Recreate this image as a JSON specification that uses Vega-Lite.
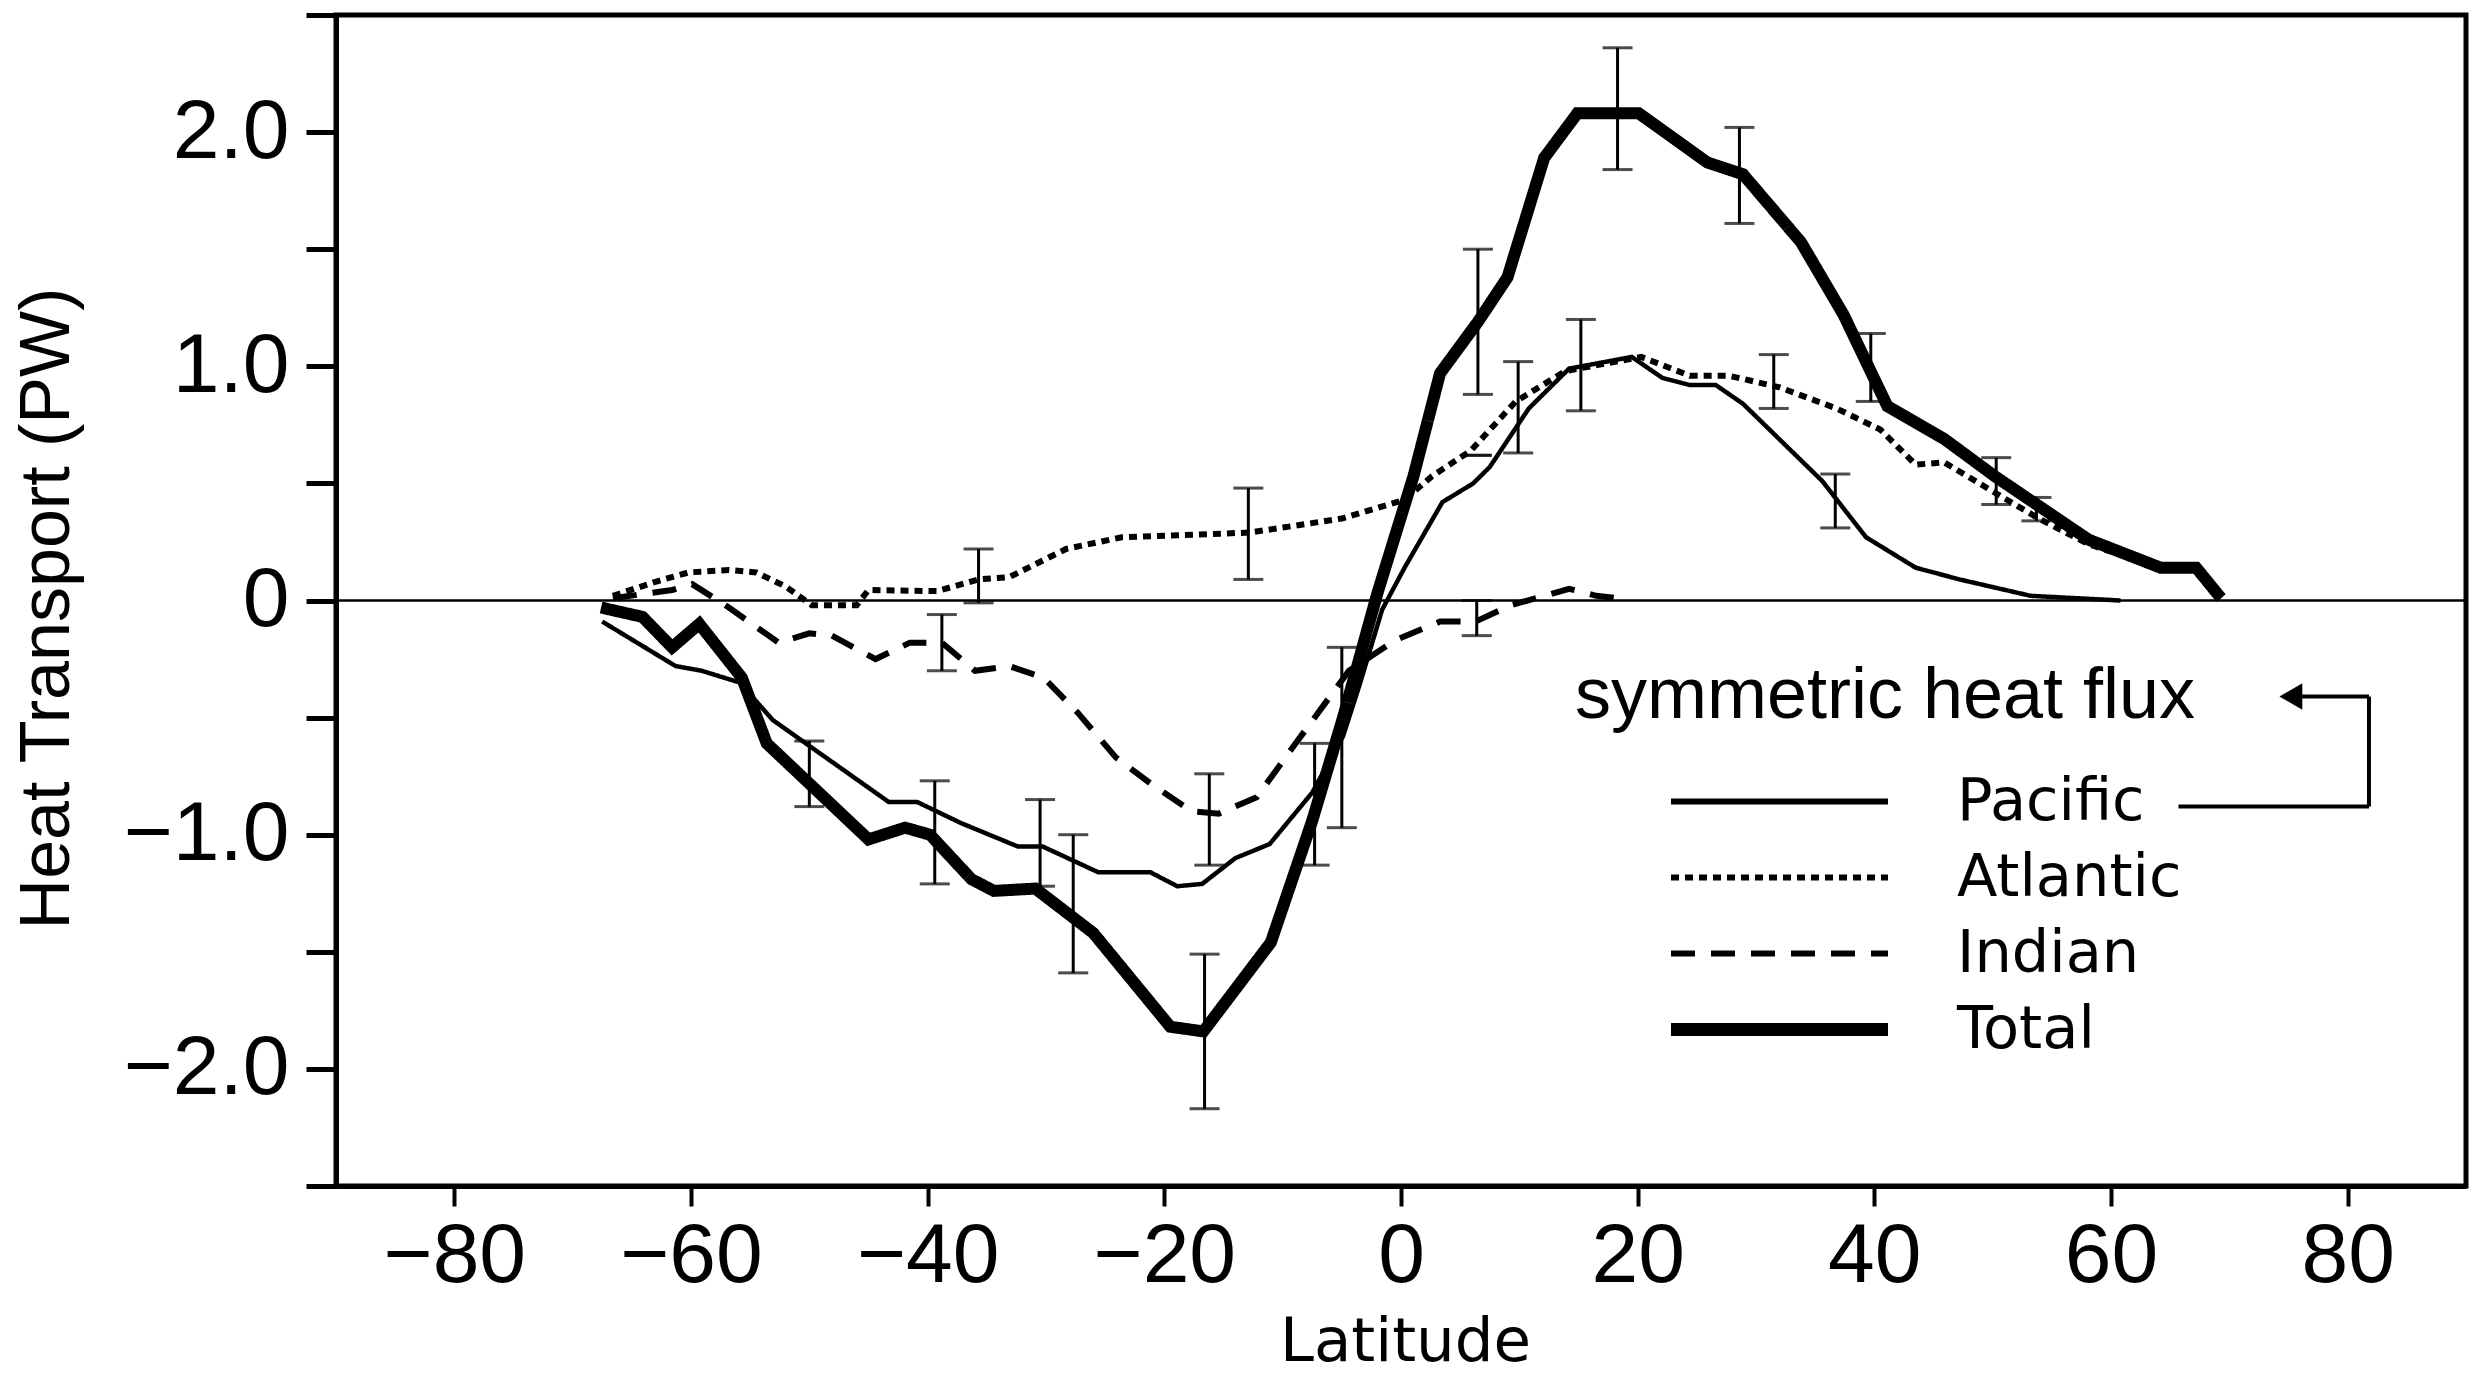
{
  "$schema": "https://vega.github.io/schema/vega-lite/v6.json",
  "width": 2130,
  "height": 1171,
  "autosize": {"type": "none"},
  "padding": {"left": 336, "top": 15, "right": 13, "bottom": 189},
  "background": "white",
  "datasets": {
    "lines": [
      {"ocean": "Total", "lat": -67.6, "pw": -0.03},
      {"ocean": "Total", "lat": -64.1, "pw": -0.07},
      {"ocean": "Total", "lat": -61.6, "pw": -0.2},
      {"ocean": "Total", "lat": -59.3, "pw": -0.1},
      {"ocean": "Total", "lat": -55.7, "pw": -0.33},
      {"ocean": "Total", "lat": -53.6, "pw": -0.61},
      {"ocean": "Total", "lat": -45.0, "pw": -1.02},
      {"ocean": "Total", "lat": -41.9, "pw": -0.97},
      {"ocean": "Total", "lat": -39.8, "pw": -1.0},
      {"ocean": "Total", "lat": -36.3, "pw": -1.19},
      {"ocean": "Total", "lat": -34.4, "pw": -1.24},
      {"ocean": "Total", "lat": -30.9, "pw": -1.23},
      {"ocean": "Total", "lat": -26.0, "pw": -1.42},
      {"ocean": "Total", "lat": -19.5, "pw": -1.82},
      {"ocean": "Total", "lat": -16.7, "pw": -1.84},
      {"ocean": "Total", "lat": -11.0, "pw": -1.46},
      {"ocean": "Total", "lat": -7.5, "pw": -0.94},
      {"ocean": "Total", "lat": -4.9, "pw": -0.5},
      {"ocean": "Total", "lat": -2.0, "pw": 0.03},
      {"ocean": "Total", "lat": 1.05, "pw": 0.53},
      {"ocean": "Total", "lat": 3.3, "pw": 0.97},
      {"ocean": "Total", "lat": 6.5, "pw": 1.19},
      {"ocean": "Total", "lat": 9.0, "pw": 1.38},
      {"ocean": "Total", "lat": 12.1, "pw": 1.89},
      {"ocean": "Total", "lat": 14.9, "pw": 2.08},
      {"ocean": "Total", "lat": 20.1, "pw": 2.08},
      {"ocean": "Total", "lat": 25.9, "pw": 1.87},
      {"ocean": "Total", "lat": 28.9, "pw": 1.82},
      {"ocean": "Total", "lat": 33.8, "pw": 1.53},
      {"ocean": "Total", "lat": 37.4, "pw": 1.22},
      {"ocean": "Total", "lat": 41.1, "pw": 0.83},
      {"ocean": "Total", "lat": 45.9, "pw": 0.69},
      {"ocean": "Total", "lat": 50.2, "pw": 0.53},
      {"ocean": "Total", "lat": 58.1, "pw": 0.26},
      {"ocean": "Total", "lat": 64.2, "pw": 0.14},
      {"ocean": "Total", "lat": 67.2, "pw": 0.14},
      {"ocean": "Total", "lat": 69.3, "pw": 0.01},

      {"ocean": "Pacific", "lat": -67.5, "pw": -0.09},
      {"ocean": "Pacific", "lat": -61.3, "pw": -0.28},
      {"ocean": "Pacific", "lat": -59.1, "pw": -0.3},
      {"ocean": "Pacific", "lat": -55.9, "pw": -0.35},
      {"ocean": "Pacific", "lat": -53.1, "pw": -0.51},
      {"ocean": "Pacific", "lat": -43.3, "pw": -0.86},
      {"ocean": "Pacific", "lat": -40.9, "pw": -0.86},
      {"ocean": "Pacific", "lat": -37.2, "pw": -0.95},
      {"ocean": "Pacific", "lat": -32.4, "pw": -1.05},
      {"ocean": "Pacific", "lat": -30.3, "pw": -1.05},
      {"ocean": "Pacific", "lat": -25.6, "pw": -1.16},
      {"ocean": "Pacific", "lat": -21.2, "pw": -1.16},
      {"ocean": "Pacific", "lat": -18.9, "pw": -1.22},
      {"ocean": "Pacific", "lat": -16.8, "pw": -1.21},
      {"ocean": "Pacific", "lat": -14.0, "pw": -1.1},
      {"ocean": "Pacific", "lat": -11.1, "pw": -1.04},
      {"ocean": "Pacific", "lat": -7.5, "pw": -0.82},
      {"ocean": "Pacific", "lat": -4.9, "pw": -0.58},
      {"ocean": "Pacific", "lat": -3.5, "pw": -0.36},
      {"ocean": "Pacific", "lat": -1.6, "pw": -0.04},
      {"ocean": "Pacific", "lat": 0.3, "pw": 0.14},
      {"ocean": "Pacific", "lat": 3.5, "pw": 0.42},
      {"ocean": "Pacific", "lat": 6.1, "pw": 0.5},
      {"ocean": "Pacific", "lat": 7.5, "pw": 0.57},
      {"ocean": "Pacific", "lat": 10.8, "pw": 0.82},
      {"ocean": "Pacific", "lat": 14.2, "pw": 0.99},
      {"ocean": "Pacific", "lat": 19.5, "pw": 1.04},
      {"ocean": "Pacific", "lat": 22.1, "pw": 0.95},
      {"ocean": "Pacific", "lat": 24.4, "pw": 0.92},
      {"ocean": "Pacific", "lat": 26.6, "pw": 0.92},
      {"ocean": "Pacific", "lat": 28.9, "pw": 0.84},
      {"ocean": "Pacific", "lat": 35.6, "pw": 0.51},
      {"ocean": "Pacific", "lat": 39.3, "pw": 0.27},
      {"ocean": "Pacific", "lat": 43.5, "pw": 0.14},
      {"ocean": "Pacific", "lat": 47.2, "pw": 0.09},
      {"ocean": "Pacific", "lat": 53.2, "pw": 0.02},
      {"ocean": "Pacific", "lat": 60.8, "pw": 0.0},

      {"ocean": "Atlantic", "lat": -66.6, "pw": 0.02},
      {"ocean": "Atlantic", "lat": -63.0, "pw": 0.08},
      {"ocean": "Atlantic", "lat": -60.2, "pw": 0.12},
      {"ocean": "Atlantic", "lat": -56.8, "pw": 0.13},
      {"ocean": "Atlantic", "lat": -54.5, "pw": 0.12},
      {"ocean": "Atlantic", "lat": -52.0, "pw": 0.06},
      {"ocean": "Atlantic", "lat": -49.8, "pw": -0.02},
      {"ocean": "Atlantic", "lat": -46.0, "pw": -0.02},
      {"ocean": "Atlantic", "lat": -45.0, "pw": 0.045},
      {"ocean": "Atlantic", "lat": -39.2, "pw": 0.04},
      {"ocean": "Atlantic", "lat": -35.7, "pw": 0.09},
      {"ocean": "Atlantic", "lat": -33.1, "pw": 0.1},
      {"ocean": "Atlantic", "lat": -28.3, "pw": 0.22},
      {"ocean": "Atlantic", "lat": -23.6, "pw": 0.27},
      {"ocean": "Atlantic", "lat": -12.8, "pw": 0.29},
      {"ocean": "Atlantic", "lat": -5.0, "pw": 0.35},
      {"ocean": "Atlantic", "lat": 0.3, "pw": 0.43},
      {"ocean": "Atlantic", "lat": 2.6, "pw": 0.53},
      {"ocean": "Atlantic", "lat": 5.9, "pw": 0.64},
      {"ocean": "Atlantic", "lat": 9.7, "pw": 0.85},
      {"ocean": "Atlantic", "lat": 13.9, "pw": 0.98},
      {"ocean": "Atlantic", "lat": 20.3, "pw": 1.04},
      {"ocean": "Atlantic", "lat": 24.4, "pw": 0.96},
      {"ocean": "Atlantic", "lat": 27.7, "pw": 0.96},
      {"ocean": "Atlantic", "lat": 32.0, "pw": 0.91},
      {"ocean": "Atlantic", "lat": 36.8, "pw": 0.82},
      {"ocean": "Atlantic", "lat": 40.5, "pw": 0.73},
      {"ocean": "Atlantic", "lat": 43.5, "pw": 0.58},
      {"ocean": "Atlantic", "lat": 45.9, "pw": 0.59},
      {"ocean": "Atlantic", "lat": 50.2, "pw": 0.46},
      {"ocean": "Atlantic", "lat": 53.9, "pw": 0.35},
      {"ocean": "Atlantic", "lat": 58.1, "pw": 0.24},
      {"ocean": "Atlantic", "lat": 64.2, "pw": 0.14},
      {"ocean": "Atlantic", "lat": 67.2, "pw": 0.13},
      {"ocean": "Atlantic", "lat": 69.3, "pw": 0.01},

      {"ocean": "Indian", "lat": -66.6, "pw": 0.01},
      {"ocean": "Indian", "lat": -61.6, "pw": 0.045},
      {"ocean": "Indian", "lat": -59.9, "pw": 0.07},
      {"ocean": "Indian", "lat": -56.8, "pw": -0.03},
      {"ocean": "Indian", "lat": -52.6, "pw": -0.18},
      {"ocean": "Indian", "lat": -50.0, "pw": -0.14},
      {"ocean": "Indian", "lat": -48.1, "pw": -0.15},
      {"ocean": "Indian", "lat": -44.4, "pw": -0.25},
      {"ocean": "Indian", "lat": -41.5, "pw": -0.18},
      {"ocean": "Indian", "lat": -38.8, "pw": -0.18},
      {"ocean": "Indian", "lat": -36.0, "pw": -0.3},
      {"ocean": "Indian", "lat": -33.1, "pw": -0.28},
      {"ocean": "Indian", "lat": -30.2, "pw": -0.33},
      {"ocean": "Indian", "lat": -27.3, "pw": -0.48},
      {"ocean": "Indian", "lat": -24.1, "pw": -0.67},
      {"ocean": "Indian", "lat": -21.2, "pw": -0.78},
      {"ocean": "Indian", "lat": -17.7, "pw": -0.9},
      {"ocean": "Indian", "lat": -15.4, "pw": -0.91},
      {"ocean": "Indian", "lat": -12.2, "pw": -0.84},
      {"ocean": "Indian", "lat": -8.9, "pw": -0.61},
      {"ocean": "Indian", "lat": -4.4, "pw": -0.3},
      {"ocean": "Indian", "lat": -0.5, "pw": -0.17},
      {"ocean": "Indian", "lat": 3.3, "pw": -0.09},
      {"ocean": "Indian", "lat": 6.3, "pw": -0.09},
      {"ocean": "Indian", "lat": 9.3, "pw": -0.02},
      {"ocean": "Indian", "lat": 14.2, "pw": 0.05},
      {"ocean": "Indian", "lat": 16.5, "pw": 0.02},
      {"ocean": "Indian", "lat": 18.3, "pw": 0.01}
    ],
    "bars": [
      {"lat": -50.0, "lo": -0.88, "hi": -0.6},
      {"lat": -39.4, "lo": -1.21, "hi": -0.77},
      {"lat": -38.8, "lo": -0.3, "hi": -0.06},
      {"lat": -35.7, "lo": -0.01, "hi": 0.22},
      {"lat": -30.5, "lo": -1.22, "hi": -0.85},
      {"lat": -27.7, "lo": -1.59, "hi": -1.0},
      {"lat": -16.6, "lo": -2.17, "hi": -1.51},
      {"lat": -16.2, "lo": -1.13, "hi": -0.74},
      {"lat": -12.9, "lo": 0.09, "hi": 0.48},
      {"lat": -7.3, "lo": -1.13, "hi": -0.61},
      {"lat": -5.0, "lo": -0.97, "hi": -0.2},
      {"lat": 6.4, "lo": -0.15, "hi": 0.0},
      {"lat": 6.4, "lo": 0.62, "hi": 0.62},
      {"lat": 6.5, "lo": 0.88, "hi": 1.5},
      {"lat": 9.9, "lo": 0.63, "hi": 1.02},
      {"lat": 15.2, "lo": 0.81, "hi": 1.2},
      {"lat": 18.3, "lo": 1.84, "hi": 2.36},
      {"lat": 28.6, "lo": 1.61, "hi": 2.02},
      {"lat": 31.5, "lo": 0.82, "hi": 1.05},
      {"lat": 36.7, "lo": 0.31, "hi": 0.54},
      {"lat": 39.7, "lo": 0.85, "hi": 1.14},
      {"lat": 50.3, "lo": 0.41, "hi": 0.61},
      {"lat": 53.7, "lo": 0.34, "hi": 0.44}
    ],
    "one": [{}]
  },
  "layer": [
    {
      "data": {"name": "one"},
      "mark": {"type": "rule", "color": "black", "strokeWidth": 2.5},
      "encoding": {"y": {"datum": 0, "type": "quantitative"}}
    },
    {
      "data": {"name": "bars"},
      "mark": {
        "type": "errorbar",
        "rule": {"strokeWidth": 3, "color": "black"},
        "ticks": {"size": 30, "thickness": 3, "color": "black"}
      },
      "encoding": {
        "x": {"field": "lat", "type": "quantitative", "title": "Latitude"},
        "y": {"field": "lo", "type": "quantitative", "title": "Heat Transport (PW)"},
        "y2": {"field": "hi"}
      }
    },
    {
      "data": {"name": "lines"},
      "mark": {"type": "line", "color": "black", "strokeCap": "butt"},
      "encoding": {
        "x": {
          "field": "lat",
          "type": "quantitative",
          "scale": {"domain": [-90, 90], "nice": false, "zero": false},
          "axis": {
            "values": [-80, -60, -40, -20, 0, 20, 40, 60, 80],
            "labelExpr": "format(datum.value, 'd')",
            "labelFontSize": 84,
            "labelPadding": 9,
            "tickSize": 20,
            "tickWidth": 4,
            "labelOverlap": false,
            "title": "Latitude",
            "titleFont": "DejaVu Sans",
            "titleFontSize": 61,
            "titleX": 1069,
            "titleY": 174,
            "titleAlign": "center",
            "titleBaseline": "alphabetic"
          },
          "title": "Latitude"
        },
        "y": {
          "field": "pw",
          "type": "quantitative",
          "scale": {"domain": [-2.5, 2.5], "nice": false, "zero": false},
          "axis": {
            "values": [-2.5, -2, -1.5, -1, -0.5, 0, 0.5, 1, 1.5, 2, 2.5],
            "labelExpr": "datum.value == 0 ? '0' : (datum.value % 1 == 0 ? format(datum.value, '.1f') : '')",
            "labelFontSize": 84,
            "labelPadding": 17,
            "tickSize": 30,
            "tickWidth": 5,
            "labelOverlap": false,
            "title": "Heat Transport (PW)",
            "titleFontSize": 70,
            "titleAngle": -90,
            "titleX": -289,
            "titleY": 593,
            "titleAlign": "center",
            "titleBaseline": "middle"
          },
          "title": "Heat Transport (PW)"
        },
        "strokeDash": {
          "field": "ocean",
          "type": "nominal",
          "scale": {
            "domain": ["Pacific", "Atlantic", "Indian", "Total"],
            "range": [[1, 0], [8, 6], [24, 16], [1, 0]]
          },
          "legend": {
            "orient": "none",
            "legendX": 1414,
            "legendY": 757,
            "title": null,
            "labelFont": "DejaVu Sans",
            "labelFontSize": 59,
            "labelColor": "black",
            "labelLimit": 0,
            "symbolType": "stroke",
            "symbolSize": 47089,
            "symbolStrokeColor": "black",
            "symbolStrokeWidth": 6,
            "labelOffset": 148,
            "rowPadding": 16,
            "encode": {
              "symbols": {
                "update": {
                  "strokeWidth": {"signal": "datum.value === 'Total' ? 13 : 6"},
                  "stroke": {"value": "black"}
                }
              }
            }
          }
        },
        "strokeWidth": {
          "condition": [
            {"test": "datum.ocean === 'Total'", "value": 12},
            {"test": "datum.ocean === 'Pacific'", "value": 4.5}
          ],
          "value": 6
        }
      }
    },
    {
      "data": {"name": "one"},
      "mark": {"type": "text", "align": "left", "baseline": "alphabetic", "font": "Liberation Sans", "fontSize": 72, "color": "black"},
      "encoding": {
        "x": {"datum": 14.7, "type": "quantitative"},
        "y": {"datum": -0.5, "type": "quantitative"},
        "text": {"value": "symmetric heat flux"}
      }
    },
    {
      "data": {"name": "one"},
      "mark": {"type": "rule", "color": "black", "strokeWidth": 4},
      "encoding": {
        "x": {"datum": 65.7, "type": "quantitative"},
        "x2": {"datum": 81.8},
        "y": {"datum": -0.88, "type": "quantitative"}
      }
    },
    {
      "data": {"name": "one"},
      "mark": {"type": "rule", "color": "black", "strokeWidth": 4},
      "encoding": {
        "x": {"datum": 81.8, "type": "quantitative"},
        "y": {"datum": -0.88, "type": "quantitative"},
        "y2": {"datum": -0.41}
      }
    },
    {
      "data": {"name": "one"},
      "mark": {"type": "rule", "color": "black", "strokeWidth": 4},
      "encoding": {
        "x": {"datum": 75.5, "type": "quantitative"},
        "x2": {"datum": 81.8},
        "y": {"datum": -0.41, "type": "quantitative"}
      }
    },
    {
      "data": {"name": "one"},
      "mark": {"type": "point", "shape": "triangle-left", "filled": true, "color": "black", "size": 700, "opacity": 1},
      "encoding": {
        "x": {"datum": 75.2, "type": "quantitative"},
        "y": {"datum": -0.41, "type": "quantitative"}
      }
    }
  ],
  "config": {
    "view": {"stroke": "black", "strokeWidth": 5},
    "axis": {
      "domainColor": "black",
      "domainWidth": 5,
      "tickColor": "black",
      "labelColor": "black",
      "titleColor": "black",
      "grid": false,
      "labelFont": "Liberation Sans",
      "titleFont": "Liberation Sans",
      "titleFontWeight": "normal"
    }
  }
}
